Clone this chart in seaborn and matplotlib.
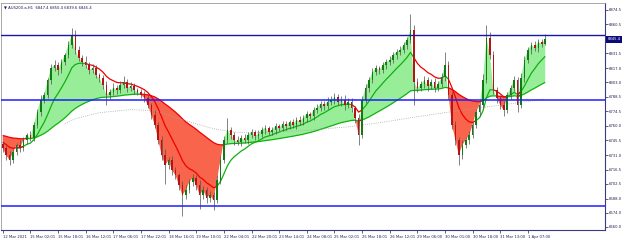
import numpy as np
import pandas as pd
import matplotlib
matplotlib.use("Agg")
import matplotlib.pyplot as plt
import matplotlib.transforms as mtransforms
import seaborn as sns

# ---------------- data ----------------
symbol_header = "\u25bc AUS200.a,H1  6847.4 6850.4 6839.6 6845.4"

first_open = 6742.0
closes = [
    6738, 6731, 6726, 6734, 6741, 6738, 6746, 6751, 6748, 6761,
    6774, 6786, 6790.5, 6805, 6817, 6820, 6815, 6823, 6830, 6840,
    6850, 6835, 6827, 6823, 6820, 6815, 6817, 6810, 6807, 6800,
    6790.5, 6793.5, 6797.5, 6795.5, 6800.5, 6803, 6797.5, 6799.5, 6795.5, 6793.5,
    6790.5, 6787.5, 6780.5, 6771, 6761, 6746, 6731, 6721, 6726, 6716,
    6711, 6701.5, 6691.5, 6696.5, 6704.5, 6708.5, 6701.5, 6691.5, 6696.5, 6689,
    6691.5, 6686.5, 6706.5, 6726, 6746, 6756, 6751, 6746, 6744, 6748,
    6746, 6751, 6754, 6750, 6752, 6756, 6758, 6754, 6756, 6760,
    6758, 6762, 6760, 6764, 6761, 6766, 6764, 6768, 6772, 6770,
    6776, 6778, 6782, 6780, 6784, 6786, 6788, 6784, 6786, 6781,
    6784, 6778, 6768, 6751, 6786, 6797.5, 6805, 6813, 6817, 6815,
    6820, 6823, 6825, 6830, 6833, 6835, 6840, 6845, 6855, 6803.5,
    6797, 6801, 6805, 6799, 6803, 6797, 6801, 6808, 6820, 6790.5,
    6761, 6746, 6731, 6741, 6746, 6751, 6761, 6774, 6780.5, 6805,
    6847, 6830, 6795.5, 6787.5, 6780.5, 6775.5, 6790.5, 6797.5, 6805, 6780.5,
    6807, 6825, 6835, 6840, 6837, 6843, 6841, 6845.4]

up_wick = [
    3, 2, 4, 3, 2, 5, 3, 2, 4, 3,
    3, 4, 3, 2, 4, 5, 3, 3, 2, 4,
    7, 5, 4, 3, 6, 3, 4, 3, 2, 3,
    4, 3, 5, 3, 4, 6, 3, 4, 3, 2,
    3, 4, 3, 2, 5, 3, 4, 6, 3, 4,
    3, 2, 4, 5, 3, 4, 3, 5, 4, 3,
    4, 3, 5, 4, 4, 12, 3, 3, 4, 3,
    4, 3, 3, 2, 4, 3, 3, 2, 3, 3,
    2, 3, 3, 2, 3, 3, 4, 3, 3, 2,
    3, 4, 3, 3, 4, 3, 4, 3, 3, 4,
    3, 3, 2, 4, 3, 4, 3, 4, 3, 2,
    3, 3, 4, 3, 3, 4, 3, 3, 16, 5,
    4, 3, 4, 3, 3, 4, 3, 4, 13, 4,
    3, 4, 3, 5, 3, 4, 3, 3, 4, 6,
    13, 6, 4, 3, 3, 4, 3, 3, 4, 3,
    5, 4, 3, 3, 4, 3, 3, 5]

lo_wick = [
    4, 5, 5, 3, 3, 4, 3, 4, 3, 3,
    3, 4, 3, 3, 4, 3, 5, 3, 3, 3,
    3, 4, 3, 4, 3, 4, 3, 3, 4, 4,
    10, 4, 3, 4, 3, 3, 4, 3, 4, 3,
    3, 4, 3, 4, 3, 4, 5, 19, 4, 5,
    4, 5, 21, 4, 3, 4, 5, 14, 4, 5,
    4, 9.5, 3, 4, 3, 3, 4, 5, 3, 4,
    3, 4, 3, 4, 3, 3, 4, 3, 3, 4,
    3, 3, 4, 3, 3, 4, 3, 3, 4, 3,
    4, 3, 3, 4, 3, 3, 4, 3, 4, 5,
    3, 4, 5, 10, 3, 3, 4, 3, 3, 4,
    3, 4, 3, 3, 4, 3, 3, 4, 3, 23,
    4, 3, 4, 5, 3, 4, 3, 3, 4, 4,
    4, 5, 10, 4, 3, 4, 3, 3, 4, 3,
    3, 4, 4, 5, 4, 6, 3, 4, 3, 6.5,
    3, 4, 3, 4, 3, 4, 3, 1.4]

# long moving average (dotted), read at a few candles
long_ma_idx = [18, 21, 28, 37, 44, 52, 60, 66, 72, 86, 100, 109, 120, 130, 143, 157]
long_ma_val = [6762, 6767, 6773, 6776, 6775, 6766, 6758, 6754, 6753, 6755,
               6759, 6763, 6769, 6774, 6780, 6786.5]

# moving-average settings (in candles) and their starting values
medium_span, medium_seed = 10, 6745.0
slow_span, slow_seed = 45, 6751.0

# horizontal levels
level_top = 6849.8
levels_blue = [6785.6, 6680.8]
last_price = 6845.4

price_ticks = [6874.5, 6860.5, 6831.5, 6817.0, 6803.0, 6788.5, 6774.5, 6760.0,
               6745.5, 6731.0, 6716.5, 6702.5, 6688.0, 6674.0, 6660.0]

time_labels = ["12 Mar 2021", "15 Mar 02:01", "15 Mar 18:01", "16 Mar 12:01",
               "17 Mar 06:01", "17 Mar 22:01", "18 Mar 16:01", "19 Mar 10:01",
               "22 Mar 04:01", "22 Mar 20:01", "23 Mar 14:01", "24 Mar 08:01",
               "25 Mar 02:01", "25 Mar 18:01", "26 Mar 12:01", "29 Mar 06:00",
               "30 Mar 01:00", "30 Mar 18:00", "31 Mar 13:00", "1 Apr 07:00"]
time_tick_idx = list(range(0, 8 * len(time_labels), 8))

# ---------------- derived series ----------------
closes_a = np.array(closes, dtype=float)
n = len(closes_a)
xs = np.arange(n)
opens_a = np.r_[first_open, closes_a[:-1]]
highs_a = np.maximum(opens_a, closes_a) + np.array(up_wick, dtype=float)
lows_a = np.minimum(opens_a, closes_a) - np.array(lo_wick, dtype=float)


def ema(vals, span, seed):
    a = 2.0 / (span + 1.0)
    out = []
    e = seed
    for v in vals:
        e = e + a * (v - e)
        out.append(e)
    return np.array(out)


fast = closes_a
medium = ema(closes_a, medium_span, medium_seed)
slow = ema(closes_a, slow_span, slow_seed)

# ---------------- figure ----------------
sns.set_style("white")
plt.rcParams["font.family"] = ["DejaVu Sans"]

W, H = 625, 240
fig = plt.figure(figsize=(W / 100, H / 100), dpi=100)
ax = fig.add_axes([1 / W, 10 / H, 604 / W, 227 / H])
ax.set_facecolor("white")

GREEN_FILL = "#98EE98"
RED_FILL = "#F8644C"
GREEN_LINE = "#10B010"
RED_LINE = "#F00000"

up_state = fast >= slow
ax.fill_between(xs, fast, slow, where=up_state, interpolate=True,
                color=GREEN_FILL, lw=0, zorder=1)
ax.fill_between(xs, fast, slow, where=~up_state, interpolate=True,
                color=RED_FILL, lw=0, zorder=1)


def colored_line(y, cond, c_true, c_false, lw):
    cond = np.asarray(cond)
    ext_t = cond | np.r_[False, cond[:-1]]
    ext_f = (~cond) | np.r_[False, (~cond)[:-1]]
    ax.plot(xs, np.where(ext_t, y, np.nan), color=c_true, lw=lw, zorder=2,
            solid_capstyle="butt")
    ax.plot(xs, np.where(ext_f, y, np.nan), color=c_false, lw=lw, zorder=2,
            solid_capstyle="butt")


colored_line(slow, up_state, GREEN_LINE, RED_LINE, 0.9)
colored_line(medium, fast >= medium, GREEN_LINE, RED_LINE, 0.9)

# dotted long MA via seaborn
sns.lineplot(x=long_ma_idx, y=long_ma_val, ax=ax, color="#A8A8A8", lw=0.6,
             linestyle=(0, (1, 1.6)), zorder=2)

# candles
ax.vlines(xs, lows_a, highs_a, color="#505050", lw=0.5, zorder=3)
is_up = closes_a >= opens_a
body_h = np.maximum(np.abs(closes_a - opens_a), 0.6)
ax.bar(xs, body_h, bottom=np.minimum(opens_a, closes_a), width=0.45,
       color=np.where(is_up, "#127A12", "#B41414"), lw=0, zorder=4)

# horizontal levels
ax.axhline(level_top, color="#1818A8", lw=1.0, zorder=5)
for lv in levels_blue:
    ax.axhline(lv, color="#1E1EFF", lw=1.1, zorder=5)

# axes limits
ax.set_xlim(-0.5, 174.3)
ax.set_ylim(6657.0, 6881.4)

# y axis on right
ax.yaxis.tick_right()
ax.set_yticks(price_ticks)
ax.set_yticklabels([f"{v:.1f}" for v in price_ticks])
ax.tick_params(axis="y", direction="out", length=2, width=0.5, pad=1,
               labelsize=2.7, colors="#202050", right=True, left=False)

# x axis
ax.set_xticks(time_tick_idx)
ax.set_xticklabels(time_labels)
ax.tick_params(axis="x", direction="out", length=2.5, width=0.5, pad=0.8,
               labelsize=2.7, colors="#202050", bottom=True)
for t in ax.get_xticklabels():
    t.set_ha("left")
ax.set_xlabel("")
ax.set_ylabel("")

for side in ["left", "top"]:
    ax.spines[side].set_color("#9A9A9A")
    ax.spines[side].set_linewidth(0.6)
for side in ["right", "bottom"]:
    ax.spines[side].set_color("#3A3A80")
    ax.spines[side].set_linewidth(0.8)

# current price label
trans = mtransforms.blended_transform_factory(ax.transAxes, ax.transData)
ax.text(1.004, last_price, f"{last_price:.1f}", transform=trans, ha="left",
        va="center", fontsize=2.7, color="white", clip_on=False, zorder=10,
        bbox=dict(boxstyle="square,pad=0.3", fc="#0A0A78", ec="none"))

# header
ax.text(0.005, 0.988, symbol_header, transform=ax.transAxes, ha="left", va="top",
        fontsize=2.7, color="#14145A", zorder=10)

fig.savefig("out.png", dpi=100)
